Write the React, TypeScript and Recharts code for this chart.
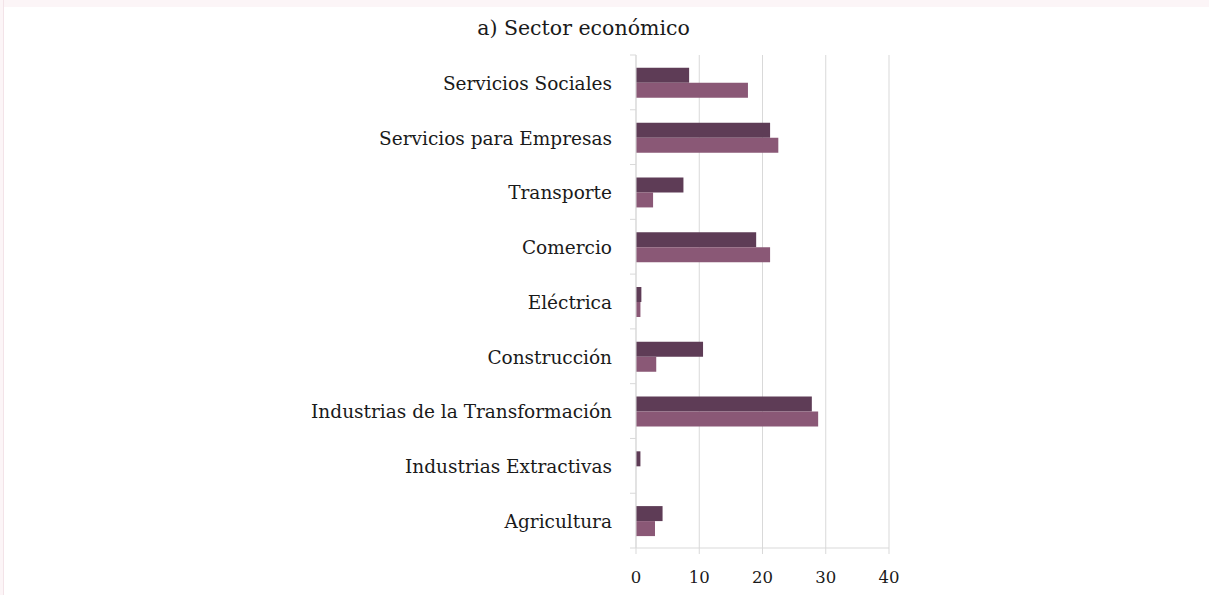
import { Bar, BarChart, CartesianGrid, XAxis, YAxis } from 'recharts';

const sectors = [
    'Servicios Sociales',
    'Servicios para Empresas',
    'Transporte',
    'Comercio',
    'Eléctrica',
    'Construcción',
    'Industrias de la Transformación',
    'Industrias Extractivas',
    'Agricultura',
];
const seriesA = [8.4, 21.2, 7.5, 19.0, 0.85, 10.6, 27.8, 0.7, 4.2];
const seriesB = [17.7, 22.5, 2.7, 21.2, 0.7, 3.2, 28.8, 0, 3.0];
const xTicks = [0, 10, 20, 30, 40];

const data = sectors.map((sector, i) => ({ sector, a: seriesA[i], b: seriesB[i] }));

const WIDTH = 1209;
const HEIGHT = 595;
const PLOT_TOP = 55;
const PLOT_BOTTOM = 548;
const BAND = (PLOT_BOTTOM - PLOT_TOP) / sectors.length;
const FONT = '"DejaVu Serif", serif';
const GRID = '#d9d9d9';

const SectorTick = (props: any) => {
    const { x, y, payload, index } = props;
    return (
        <g>
            <line x1={x - 6} x2={x} y1={y - BAND / 2} y2={y - BAND / 2} stroke={GRID} />
            {index === sectors.length - 1 && (
                <line x1={x - 6} x2={x} y1={y + BAND / 2} y2={y + BAND / 2} stroke={GRID} />
            )}
            <text x={x - 24} y={y} dy="0.4em" textAnchor="end" fontSize={18.5} fontFamily={FONT} fill="#1a1a1a">
                {payload.value}
            </text>
        </g>
    );
};

export default function App() {
    return (
        <div style={{ position: 'absolute', left: 0, top: 0, width: WIDTH, height: HEIGHT, background: '#fff' }}>
            <div style={{ position: 'absolute', left: 0, top: 0, width: WIDTH, height: 7, background: '#fcf5f7' }} />
            <div
                style={{
                    position: 'absolute',
                    left: 0,
                    top: 0,
                    width: 3,
                    height: HEIGHT,
                    background: '#fcf5f7',
                    borderRight: '1px solid #f3e3e8',
                }}
            />
            <div
                style={{
                    position: 'absolute',
                    left: 0,
                    top: 16,
                    width: 1167,
                    textAlign: 'center',
                    fontFamily: FONT,
                    fontSize: 20.5,
                    color: '#1a1a1a',
                }}
            >
                a) Sector económico
            </div>
            <BarChart
                width={WIDTH}
                height={HEIGHT}
                data={data}
                layout="vertical"
                margin={{ top: PLOT_TOP, right: 320, bottom: HEIGHT - PLOT_BOTTOM - 40, left: 0 }}
                barCategoryGap="23.5%"
                barGap={0}
                style={{ position: 'absolute', left: 0, top: 0 }}
            >
                <CartesianGrid horizontal={false} stroke={GRID} />
                <XAxis
                    type="number"
                    domain={[0, 40]}
                    ticks={xTicks}
                    height={40}
                    stroke={GRID}
                    tickSize={6}
                    tickMargin={17}
                    tick={{ fontSize: 16.5, fontFamily: FONT, fill: '#1a1a1a' }}
                />
                <YAxis
                    type="category"
                    dataKey="sector"
                    width={636}
                    stroke={GRID}
                    tickLine={false}
                    tickSize={0}
                    tickMargin={0}
                    interval={0}
                    tick={<SectorTick />}
                />
                <Bar dataKey="a" fill="#5e3c56" isAnimationActive={false} />
                <Bar dataKey="b" fill="#8a5876" isAnimationActive={false} />
            </BarChart>
        </div>
    );
}
